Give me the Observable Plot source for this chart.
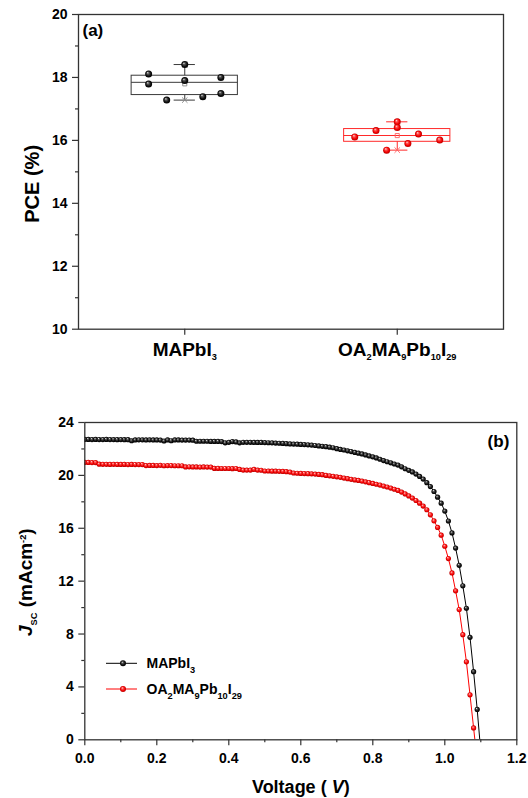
<!DOCTYPE html>
<html>
<head>
<meta charset="utf-8">
<script src="https://cdn.jsdelivr.net/npm/d3@7"></script>
<script src="https://cdn.jsdelivr.net/npm/@observablehq/plot@0.6"></script>
<style>
  html, body { margin: 0; padding: 0; background: #fff; }
  #wrap { position: relative; width: 528px; height: 798px; overflow: hidden; }
  .panel { position: absolute; left: 0; }
</style>
</head>
<body>
<div id="wrap">
  <div id="pa" class="panel" style="top:0px"></div>
  <div id="pb" class="panel" style="top:390px"></div>
</div>
<script>
// ---------------- Data: panel (a) PCE box chart ----------------
const groupLabels = ["MAPbI_{3}", "OA_{2}MA_{9}Pb_{10}I_{29}"];
const pceMAPbI3 = [18.11, 17.79, 17.28, 18.41, 17.90, 17.39, 18.00, 17.49];
const jitterMAPbI3 = [-0.17, -0.17, -0.085, 0, 0, 0.085, 0.17, 0.17];
const pceOA = [16.11, 16.31, 15.69, 16.59, 16.41, 15.90, 16.20, 16.01];
const jitterOA = [-0.2, -0.1, -0.05, 0, 0, 0.05, 0.1, 0.2];
const pceTicks = [10, 12, 14, 16, 18, 20];
const pceMinorTicks = [11, 13, 15, 17, 19];

// ---------------- Data: panel (b) J-V curves ----------------
const voltage = [
  0.00,0.01,0.02,0.03,0.04,0.05,0.06,0.07,0.08,0.09,
  0.10,0.11,0.12,0.13,0.14,0.15,0.16,0.17,0.18,0.19,
  0.20,0.21,0.22,0.23,0.24,0.25,0.26,0.27,0.28,0.29,
  0.30,0.31,0.32,0.33,0.34,0.35,0.36,0.37,0.38,0.39,
  0.40,0.41,0.42,0.43,0.44,0.45,0.46,0.47,0.48,0.49,
  0.50,0.51,0.52,0.53,0.54,0.55,0.56,0.57,0.58,0.59,
  0.60,0.61,0.62,0.63,0.64,0.65,0.66,0.67,0.68,0.69,
  0.70,0.71,0.72,0.73,0.74,0.75,0.76,0.77,0.78,0.79,
  0.80,0.81,0.82,0.83,0.84,0.85,0.86,0.87,0.88,0.89,
  0.90,0.91,0.92,0.93,0.94,0.95,0.96,0.97,0.98,0.99,
  1.00,1.01,1.02,1.03,1.04,1.05,1.06,1.07,1.08,1.09,1.10
];
const jMAPbI3 = [
  22.72,22.72,22.71,22.72,22.71,22.71,22.72,22.71,22.71,22.70,
  22.71,22.70,22.70,22.62,22.68,22.69,22.69,22.68,22.69,22.68,
  22.68,22.67,22.60,22.68,22.62,22.68,22.68,22.67,22.67,22.67,
  22.66,22.58,22.58,22.58,22.58,22.57,22.57,22.57,22.56,22.46,
  22.50,22.56,22.53,22.46,22.50,22.50,22.50,22.49,22.49,22.49,
  22.48,22.47,22.46,22.44,22.43,22.42,22.40,22.38,22.37,22.36,
  22.34,22.33,22.31,22.29,22.26,22.23,22.20,22.17,22.13,22.09,
  22.02,21.96,21.92,21.86,21.80,21.74,21.68,21.62,21.55,21.47,
  21.40,21.32,21.22,21.12,21.03,20.95,20.86,20.78,20.65,20.50,
  20.38,20.26,20.10,19.92,19.72,19.45,19.15,18.78,18.35,17.90,
  17.30,16.55,15.65,14.50,13.20,11.65,9.95,7.75,5.15,2.30,-0.90
];
const jOA = [
  20.98,20.98,20.97,20.97,20.85,20.84,20.84,20.83,20.84,20.83,
  20.83,20.83,20.82,20.83,20.82,20.82,20.82,20.74,20.75,20.75,
  20.74,20.76,20.73,20.74,20.74,20.73,20.73,20.73,20.64,20.65,
  20.64,20.64,20.63,20.64,20.63,20.63,20.53,20.53,20.52,20.52,
  20.52,20.51,20.52,20.45,20.40,20.40,20.40,20.45,20.40,20.39,
  20.33,20.33,20.32,20.32,20.31,20.30,20.28,20.25,20.18,20.16,
  20.15,20.14,20.13,20.12,20.10,20.07,20.05,20.00,19.97,19.93,
  19.89,19.85,19.80,19.75,19.70,19.66,19.62,19.57,19.51,19.45,
  19.39,19.33,19.27,19.19,19.12,19.04,18.95,18.86,18.74,18.60,
  18.45,18.28,18.10,17.90,17.68,17.40,17.02,16.56,16.06,15.48,
  14.64,13.71,12.62,11.27,9.85,7.95,5.90,3.40,0.90,-1.60
];
const seriesLabels = ["MAPbI_{3}", "OA_{2}MA_{9}Pb_{10}I_{29}"];
const jTicks = [0, 4, 8, 12, 16, 20, 24];
const jMinorTicks = [2, 6, 10, 14, 18, 22];
const vTicks = [0, 0.2, 0.4, 0.6, 0.8, 1.0, 1.2];
const vMinorTicks = [0.1, 0.3, 0.5, 0.7, 0.9, 1.1];

// ---------------- helpers ----------------
const FONT = '"Liberation Sans", Arial, Helvetica, sans-serif';
const baseStyle = {fontFamily: FONT, fontSize: "14px", fontWeight: "bold", color: "#000", background: "#fff", overflow: "visible"};

function addDefs(svg, suffix) {
  const defs = d3.select(svg).insert("defs", ":first-child");
  const mk = (id, stops) => {
    const g = defs.append("radialGradient").attr("id", id + suffix)
      .attr("cx", "50%").attr("cy", "50%").attr("r", "50%").attr("fx", "36%").attr("fy", "30%");
    stops.forEach(([o, c]) => g.append("stop").attr("offset", o).attr("stop-color", c));
  };
  mk("ballK", [[0, "#f4f4f4"], [0.28, "#5a5a5a"], [0.7, "#111"], [1, "#000"]]);
  mk("ballR", [[0, "#ffe6e6"], [0.3, "#ff5050"], [0.72, "#f00000"], [1, "#b80000"]]);
}

function richify(svg) {
  d3.select(svg).selectAll("text").each(function () {
    const s = this.textContent;
    if (!/\*|_\{|\^\{/.test(s)) return;
    const base = parseFloat(getComputedStyle(this).fontSize) || 14;
    const sel = d3.select(this).text(null);
    const re = /\*([^*]+)\*|_\{([^}]*)\}|\^\{([^}]*)\}|([^*_^]+)/g;
    let shift = 0, m;
    while ((m = re.exec(s)) !== null) {
      let str, target = 0, small = false, italic = false;
      if (m[1] !== undefined) { str = m[1]; italic = true; }
      else if (m[2] !== undefined) { str = m[2]; target = 0.34 * base; small = true; }
      else if (m[3] !== undefined) { str = m[3]; target = -0.42 * base; small = true; }
      else str = m[4];
      const t = sel.append("tspan").text(str);
      if (target - shift !== 0) t.attr("dy", (target - shift).toFixed(2));
      shift = target;
      if (small) t.attr("font-size", (0.66 * base).toFixed(2));
      if (italic) t.attr("font-style", "italic");
    }
  });
}

function hinges(values) {
  const s = [...values].sort(d3.ascending);
  const n = s.length, h = Math.floor(n / 2);
  return {
    min: s[0], max: s[n - 1],
    q1: d3.median(s.slice(0, h)), q3: d3.median(s.slice(n - h)),
    med: d3.median(s), mean: d3.mean(s)
  };
}

function boxMarks(i, values, color, light) {
  const st = [{i, ...hinges(values)}];
  const hw = 0.25, cap = 0.05;
  return [
    Plot.ruleX(st, {x: "i", y1: "q3", y2: "max", stroke: color, strokeWidth: 1}),
    Plot.ruleX(st, {x: "i", y1: "min", y2: "q1", stroke: color, strokeWidth: 1}),
    Plot.ruleY(st, {x1: d => d.i - cap, x2: d => d.i + cap, y: "max", stroke: color, strokeWidth: 1}),
    Plot.ruleY(st, {x1: d => d.i - cap, x2: d => d.i + cap, y: "min", stroke: color, strokeWidth: 1}),
    Plot.rect(st, {x1: d => d.i - hw, x2: d => d.i + hw, y1: "q1", y2: "q3", fill: "none", stroke: color, strokeWidth: 1}),
    Plot.ruleY(st, {x1: d => d.i - hw, x2: d => d.i + hw, y: "med", stroke: color, strokeWidth: 1}),
    Plot.dot(st, {x: "i", y: "mean", symbol: "square", r: 2.3, fill: "none", stroke: light, strokeWidth: 0.9}),
    Plot.dot(st, {x: "i", y: "min", symbol: "times", r: 2.6, stroke: light, strokeWidth: 0.9}),
    Plot.dot(st, {x: "i", y: "max", symbol: "times", r: 2.6, stroke: light, strokeWidth: 0.9})
  ];
}

// ---------------- Panel (a) ----------------
const ptsA = pceMAPbI3.map((v, k) => ({x: 1 + jitterMAPbI3[k], v}));
const ptsB = pceOA.map((v, k) => ({x: 2 + jitterOA[k], v}));

const chartA = Plot.plot({
  width: 528, height: 390,
  marginLeft: 78, marginRight: 25, marginTop: 14, marginBottom: 61.3,
  x: {domain: [0.5, 2.5]},
  y: {domain: [10, 20]},
  style: baseStyle,
  marks: [
    Plot.axisY({ticks: pceMinorTicks, tickSize: 3, tickFormat: () => "", label: null, stroke: "#333", strokeWidth: 1.2}),
    Plot.axisY({ticks: pceTicks, tickSize: 6, tickPadding: 5, label: null, fontSize: 14, stroke: "#333", strokeWidth: 1.2}),
    Plot.axisX({ticks: [1, 2], tickSize: 6, tickPadding: 7, tickFormat: i => groupLabels[i - 1], label: null, fontSize: 19, stroke: "#333", strokeWidth: 1.2}),
    ...boxMarks(1, pceMAPbI3, "#3a3a3a", "#888"),
    ...boxMarks(2, pceOA, "#ff2a2a", "#ff6060"),
    Plot.dot(ptsA, {x: "x", y: "v", r: 3.5, fill: "url(#ballKa)"}),
    Plot.dot(ptsB, {x: "x", y: "v", r: 3.5, fill: "url(#ballRa)"}),
    Plot.frame({stroke: "#333", strokeWidth: 1.3}),
    Plot.text(["(a)"], {frameAnchor: "top-left", textAnchor: "start", lineAnchor: "middle", dx: 4, dy: 16.5, fontSize: 17, fontWeight: "bold"}),
    Plot.text(["PCE (%)"], {frameAnchor: "left", rotate: -90, textAnchor: "middle", lineAnchor: "middle", dx: -45.5, dy: 12, fontSize: 20, fontWeight: "bold"})
  ]
});
addDefs(chartA, "a");
richify(chartA);
document.getElementById("pa").appendChild(chartA);

// ---------------- Panel (b) ----------------
const rowsK = voltage.map((v, k) => ({v, j: jMAPbI3[k]})).filter(d => d.j !== undefined);
const rowsR = voltage.map((v, k) => ({v, j: jOA[k]})).filter(d => d.j !== undefined);

const chartB = Plot.plot({
  width: 528, height: 408,
  marginLeft: 84.3, marginRight: 11.7, marginTop: 32, marginBottom: 58.7,
  x: {domain: [0, 1.2]},
  y: {domain: [0, 24]},
  style: baseStyle,
  marks: [
    Plot.axisY({ticks: jMinorTicks, tickSize: 3, tickFormat: () => "", label: null, stroke: "#333", strokeWidth: 1.2}),
    Plot.axisY({ticks: jTicks, tickSize: 6, tickPadding: 5, label: null, fontSize: 14, stroke: "#333", strokeWidth: 1.2}),
    Plot.axisX({ticks: vMinorTicks, tickSize: 3, tickFormat: () => "", label: null, stroke: "#333", strokeWidth: 1.2}),
    Plot.axisX({ticks: vTicks, tickSize: 6, tickPadding: 7, tickFormat: d3.format(".1f"), label: null, fontSize: 14, stroke: "#333", strokeWidth: 1.2}),
    Plot.line(rowsK, {x: "v", y: "j", stroke: "#000", strokeWidth: 1, clip: true}),
    Plot.line(rowsR, {x: "v", y: "j", stroke: "#ff0000", strokeWidth: 1, clip: true}),
    Plot.dot(rowsK, {x: "v", y: "j", r: 2.6, fill: "url(#ballKb)", clip: true}),
    Plot.dot(rowsR, {x: "v", y: "j", r: 2.6, fill: "url(#ballRb)", clip: true}),
    Plot.frame({stroke: "#333", strokeWidth: 1.3}),
    Plot.text(["(b)"], {frameAnchor: "top-right", textAnchor: "end", lineAnchor: "middle", dx: -7.5, dy: 19.5, fontSize: 17, fontWeight: "bold"}),
    Plot.text(["*J*_{SC} (mAcm^{-2})"], {frameAnchor: "left", rotate: -90, textAnchor: "middle", lineAnchor: "middle", dx: -59, dy: 1, fontSize: 19, fontWeight: "bold"}),
    Plot.text(["Voltage ( *V*)"], {frameAnchor: "bottom", textAnchor: "middle", lineAnchor: "middle", dy: 47.4, fontSize: 18, fontWeight: "bold"})
  ]
});
addDefs(chartB, "b");

// legend (layout in pixels, inside the lower-left of the frame)
(function legend() {
  const g = d3.select(chartB).append("g").attr("aria-label", "legend").attr("text-anchor", "start");
  const items = [
    {label: seriesLabels[0], color: "#000", fill: "url(#ballKb)", y: 273.3},
    {label: seriesLabels[1], color: "#ff0000", fill: "url(#ballRb)", y: 299}
  ];
  items.forEach(it => {
    g.append("line").attr("x1", 106).attr("x2", 137).attr("y1", it.y).attr("y2", it.y)
      .attr("stroke", it.color).attr("stroke-width", 1);
    g.append("circle").attr("cx", 123).attr("cy", it.y).attr("r", 3).attr("fill", it.fill);
    g.append("text").attr("x", 146.5).attr("y", it.y).attr("dy", "0.36em")
      .attr("text-anchor", "start")
      .attr("font-size", 14).attr("font-weight", "bold").attr("fill", "#000").text(it.label);
  });
})();
richify(chartB);
document.getElementById("pb").appendChild(chartB);
</script>
</body>
</html>
